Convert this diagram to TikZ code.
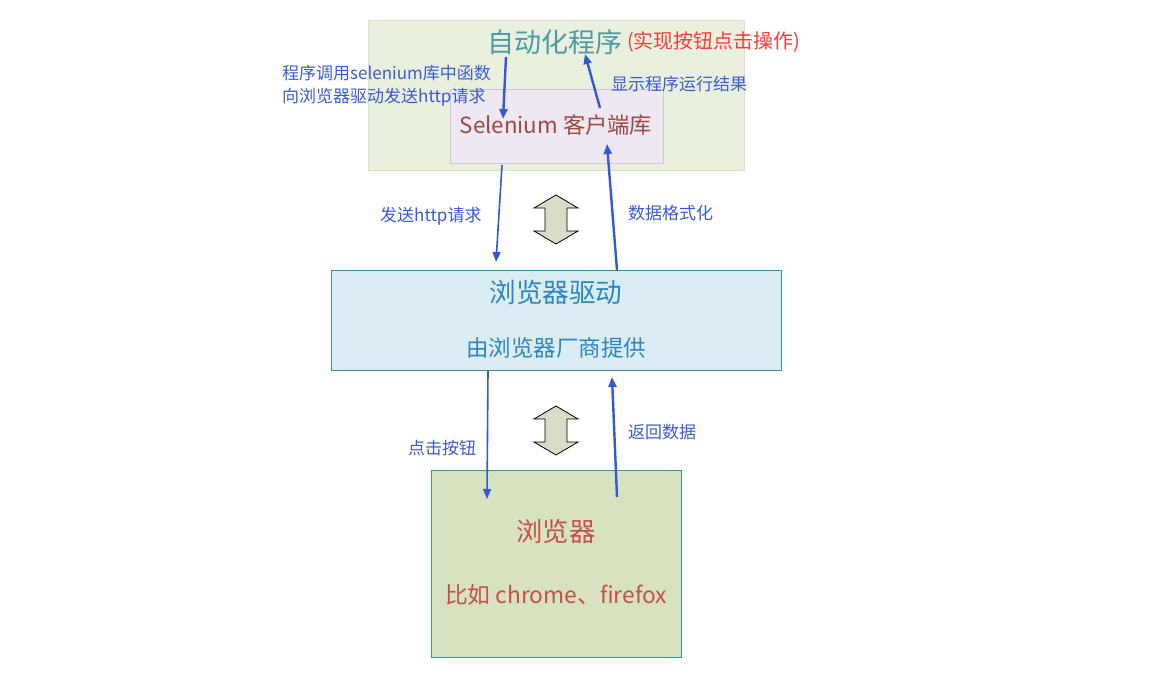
\documentclass[tikz,border=0pt]{standalone}
\usepackage{fontspec}
\setmainfont{Noto Sans CJK SC}
\usetikzlibrary{arrows.meta}
\definecolor{lblblue}{HTML}{3A5BD9}
\definecolor{arrblue}{HTML}{3558D6}
\definecolor{teal1}{HTML}{4A9BA5}
\definecolor{red1}{HTML}{FF3B3B}
\definecolor{dred}{HTML}{A0483F}
\definecolor{drvblue}{HTML}{2E86C1}
\definecolor{brred}{HTML}{C5504B}
\definecolor{outerfill}{HTML}{EAF0DE}
\definecolor{outerline}{HTML}{D8E4C4}
\definecolor{selfill}{HTML}{EDE8F1}
\definecolor{selline}{HTML}{CDC6D9}
\definecolor{drvfill}{HTML}{DAEDF4}
\definecolor{boxline}{HTML}{3E8E9E}
\definecolor{brfill}{HTML}{D7E2C0}
\definecolor{dafill}{HTML}{D9DDC7}
\tikzset{
  lbl/.style={text=lblblue, font=\fontsize{17}{19}\selectfont, inner sep=0pt, anchor=west},
  flow/.style={draw=arrblue, line width=2.4pt, -{Triangle[length=10pt,width=8pt]}},
  dbl/.style={draw=black, fill=dafill, line width=0.8pt, line join=miter},
}
\begin{document}
\begin{tikzpicture}[x=1pt,y=-1pt]
\useasboundingbox (0,0) rectangle (1173,683);
% boxes
\node[draw=outerline, fill=outerfill, line width=1pt, minimum width=376pt, minimum height=150pt, inner sep=0pt] (outer) at (556,95) {};
\node[draw=selline, fill=selfill, line width=1pt, minimum width=213pt, minimum height=74pt, inner sep=0pt] (sel) at (556.5,126) {};
\node[draw=boxline, fill=drvfill, line width=1pt, minimum width=450pt, minimum height=100pt, inner sep=0pt] (drv) at (556,320) {};
\node[draw=boxline, fill=brfill, line width=1pt, minimum width=250pt, minimum height=187pt, inner sep=0pt] (br) at (556,563.5) {};
% texts
\node[text=teal1, font=\fontsize{27}{29}\selectfont, inner sep=0pt] (auto) at (555,42) {自动化程序};
\node[text=red1, font=\fontsize{20}{22}\selectfont, inner sep=0pt, anchor=west] (autonote) at (627,42) {(实现按钮点击操作)};
\node[text=dred, font=\fontsize{22.3}{25}\selectfont, inner sep=0pt] (seltxt) at (556,125) {Selenium 客户端库};
\node[text=drvblue, font=\fontsize{26.6}{29}\selectfont, inner sep=0pt] (drvtxt) at (556,292) {浏览器驱动};
\node[text=drvblue, font=\fontsize{22.5}{25}\selectfont, inner sep=0pt] (drvsub) at (556,348) {由浏览器厂商提供};
\node[text=brred, font=\fontsize{26.3}{29}\selectfont, inner sep=0pt] (brtxt) at (556,532) {浏览器};
\node[text=brred, font=\fontsize{22.8}{25}\selectfont, inner sep=0pt] (brsub) at (556,595) {比如 chrome、firefox};
% labels
\node[lbl] (l1) at (282,73) {程序调用selenium库中函数};
\node[lbl] (l2) at (282,97) {向浏览器驱动发送http请求};
\node[lbl] (l3) at (611,84) {显示程序运行结果};
\node[lbl] (l4) at (380,216) {发送http请求};
\node[lbl] (l5) at (628,213) {数据格式化};
\node[lbl] (l6) at (408,448) {点击按钮};
\node[lbl] (l7) at (628,432) {返回数据};
% connector endpoints
\coordinate (a1s) at (506,57);  \coordinate (a1e) at (503,119);
\coordinate (a2s) at (600,108); \coordinate (a2e) at (585,54);
\coordinate (a3s) at (502,165); \coordinate (a3e) at (496,262);
\coordinate (a4s) at (617,270); \coordinate (a4e) at (607,144);
\coordinate (a5s) at (488,371); \coordinate (a5e) at (487,499);
\coordinate (a6s) at (617,497); \coordinate (a6e) at (612,377);
\draw[flow] (a1s) -- (a1e);
\draw[flow] (a2s) -- (a2e);
\draw[flow, line width=1.6pt] (a3s) -- (a3e);
\draw[flow] (a4s) -- (a4e);
\draw[flow, line width=1.6pt] (a5s) -- (a5e);
\draw[flow] (a6s) -- (a6e);
% double arrows
\draw[dbl] (556,195) -- (578,208) -- (567,208) -- (567,231) -- (578,231) -- (556,244) -- (534,231) -- (545,231) -- (545,208) -- (534,208) -- cycle;
\draw[dbl] (556,406) -- (578,419) -- (567,419) -- (567,442) -- (578,442) -- (556,455) -- (534,442) -- (545,442) -- (545,419) -- (534,419) -- cycle;
\end{tikzpicture}
\end{document}
